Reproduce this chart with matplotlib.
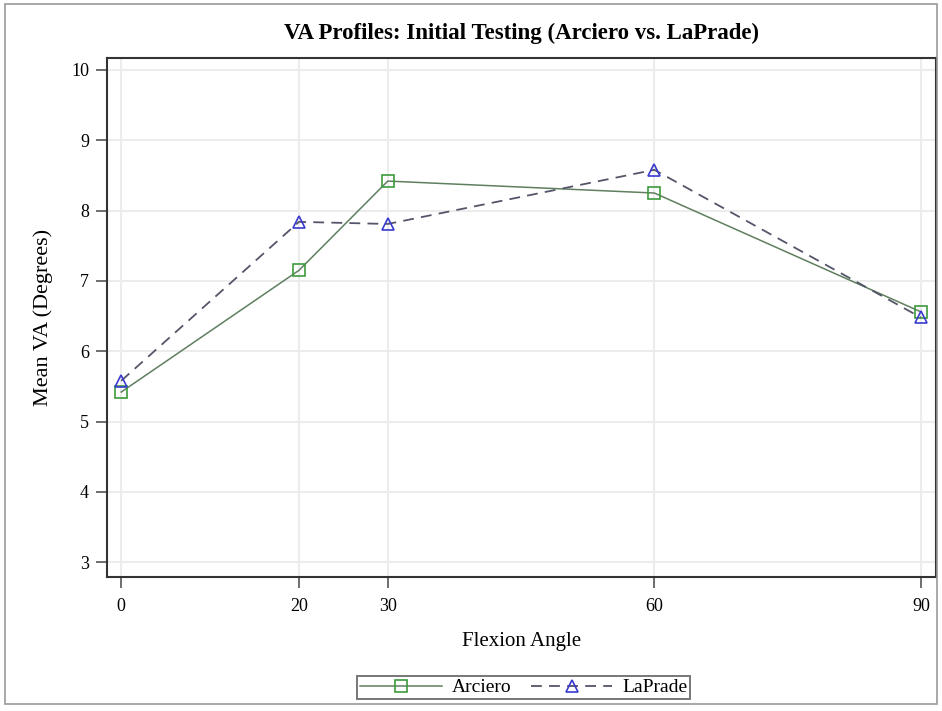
import matplotlib
matplotlib.use("Agg")
import matplotlib.pyplot as plt
from matplotlib.patches import Rectangle

plt.rcParams['font.family'] = ['Liberation Serif', 'DejaVu Serif']

angles = [0, 20, 30, 60, 90]
arciero = [5.42, 7.15, 8.42, 8.25, 6.56]
laprade = [5.58, 7.84, 7.81, 8.58, 6.48]
y_ticks = [3, 4, 5, 6, 7, 8, 9, 10]

fig = plt.figure(figsize=(9.42, 7.11), dpi=100)
ax = fig.add_axes([0.1136, 0.1885, 0.880, 0.7299])

ax.plot(angles, arciero, color='#5f7f5f', lw=1.1, marker='s', ms=8,
        mfc='none', mec='#3c9a3c', mew=1.2, label='Arciero')
ax.plot(angles, laprade, color='#55556a', lw=1.3, ls=(0, (6, 4)), marker='^',
        ms=8, mfc='none', mec='#3a3ad0', mew=1.2, label='LaPrade')

ax.set_xlim(-1.6, 91.7)
ax.set_ylim(2.79, 10.17)
ax.set_xticks(angles)
ax.set_yticks(y_ticks)
ax.grid(True, color='#ececec', lw=1.5)
ax.set_axisbelow(True)
for s in ax.spines.values():
    s.set_color('#333333')
    s.set_linewidth(1.5)
ax.tick_params(labelsize=13, length=8, width=1.2, color='#555555')
ax.tick_params(axis='x', pad=7)
ax.tick_params(axis='y', pad=5)

ax.set_xlabel('Flexion Angle', fontsize=15, va='center')
ax.xaxis.set_label_coords(0.5, -0.125)
ax.set_ylabel('Mean VA (Degrees)', fontsize=16, va='center')
ax.yaxis.set_label_coords(-0.077, 0.5)

fig.text(0.554, 0.953, 'VA Profiles: Initial Testing (Arciero vs. LaPrade)',
         ha='center', va='center', fontsize=16.5, fontweight='bold')

leg = fig.legend(loc='center', bbox_to_anchor=(0.556, 0.033), ncol=2,
                 fontsize=14, frameon=True, fancybox=False, handlelength=4.2,
                 columnspacing=1.0, borderpad=0.15, handletextpad=0.5,
                 borderaxespad=0)
leg.get_frame().set_edgecolor('#555555')
leg.get_frame().set_linewidth(1.4)

fig.patches.append(Rectangle((0.005, 0.01), 0.99, 0.985, transform=fig.transFigure,
                             fill=False, edgecolor='#999999', lw=1.2))

fig.savefig('out.png', dpi=100)
